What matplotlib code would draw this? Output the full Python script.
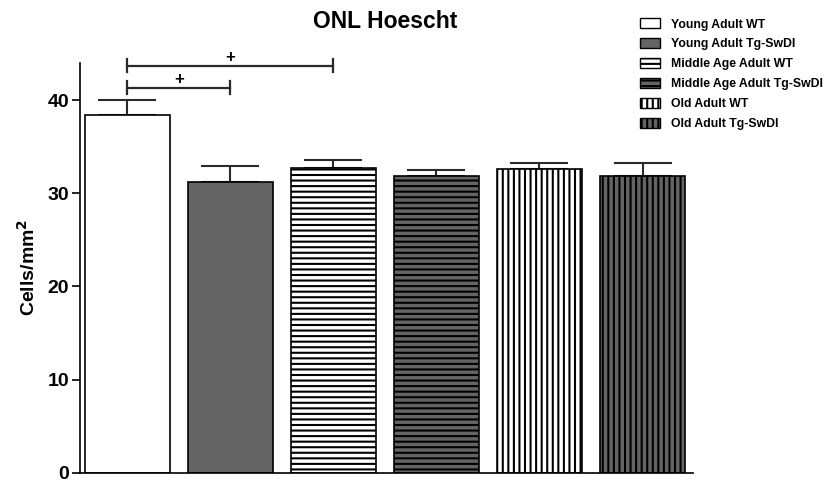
import numpy as np
import matplotlib
matplotlib.use('Agg')
import matplotlib.pyplot as pl
from matplotlib.patches import Patch

pl.rcParams['font.family'] = ['Liberation Sans', 'DejaVu Sans']
pl.rcParams['font.weight'] = 'bold'
pl.rcParams['hatch.linewidth'] = 1.5
pl.rcParams['hatch.color'] = 'black'

#--------------------------------------------------------------------------------------------

groups = ['Young Adult WT', 'Young Adult Tg-SwDI',
          'Middle Age Adult WT', 'Middle Age Adult Tg-SwDI',
          'Old Adult WT', 'Old Adult Tg-SwDI']
means = [38.4, 31.2, 32.7, 31.9, 32.6, 31.9]
sems  = [1.6, 1.7, 0.9, 0.6, 0.6, 1.4]

# significance brackets: (from group, to group, height)
sig = [(0, 2, 43.7), (0, 1, 41.3)]
sigLabel = '+'

fills   = ['white', '#646464', 'white', '#646464', 'white', '#646464']
hatches = [None, None, '---', '---', '|||', '|||']

#--------------------------------------------------------------------------------------------

fig1 = pl.figure(figsize=(8.25, 4.83), dpi=100)
ax11 = fig1.add_axes([0.097, 0.021, 0.743, 0.849])

xpos = np.arange(len(groups))
for j in range(len(groups)):
    ax11.bar(xpos[j], means[j], width=0.83, color=fills[j], hatch=hatches[j],
             edgecolor='black', linewidth=1.2, zorder=2)
    ax11.errorbar(xpos[j], means[j], yerr=[[0], [sems[j]]], fmt='none',
                  ecolor='#2a2a2a', elinewidth=1.5, capsize=21, capthick=1.5, zorder=1)

for (a, b, h) in sig:
    ax11.plot([xpos[a], xpos[b]], [h, h], color='#2a2a2a', lw=1.6, clip_on=False)
    for xe in (xpos[a], xpos[b]):
        ax11.plot([xe, xe], [h-0.7, h+0.7], color='#2a2a2a', lw=1.6, clip_on=False)
    ax11.text(0.5*(xpos[a]+xpos[b]), h+0.9, sigLabel, ha='center', va='center',
              fontsize=12, fontweight='bold')

ax11.set_xlim(-0.46, 5.49)
ax11.set_ylim(0., 44.)
ax11.set_yticks([0, 10, 20, 30, 40])
ax11.set_xticks([])
ax11.tick_params(axis='y', labelsize=14, width=1.2, length=6, pad=2)
for lab in ax11.get_yticklabels():
    lab.set_fontweight('bold')
ax11.spines['top'].set_visible(False)
ax11.spines['right'].set_visible(False)
ax11.spines['left'].set_linewidth(1.2)
ax11.spines['bottom'].set_linewidth(1.2)

ax11.set_ylabel(r'Cells/mm$^\mathbf{2}$', fontsize=14, fontweight='bold', labelpad=6)
fig1.text(0.467, 0.955, 'ONL Hoescht', ha='center', va='center', fontsize=16.5, fontweight='bold')

handles = [Patch(facecolor=fills[j], hatch=hatches[j], edgecolor='black', linewidth=1.0)
           for j in range(len(groups))]
leg = fig1.legend(handles, groups, loc='upper left', bbox_to_anchor=(0.763, 0.985),
                  frameon=False, fontsize=8.8, handlelength=1.6, handleheight=0.9,
                  labelspacing=0.62, handletextpad=0.9)
for t in leg.get_texts():
    t.set_fontweight('bold')

fig1.savefig('out.png', dpi=100)
